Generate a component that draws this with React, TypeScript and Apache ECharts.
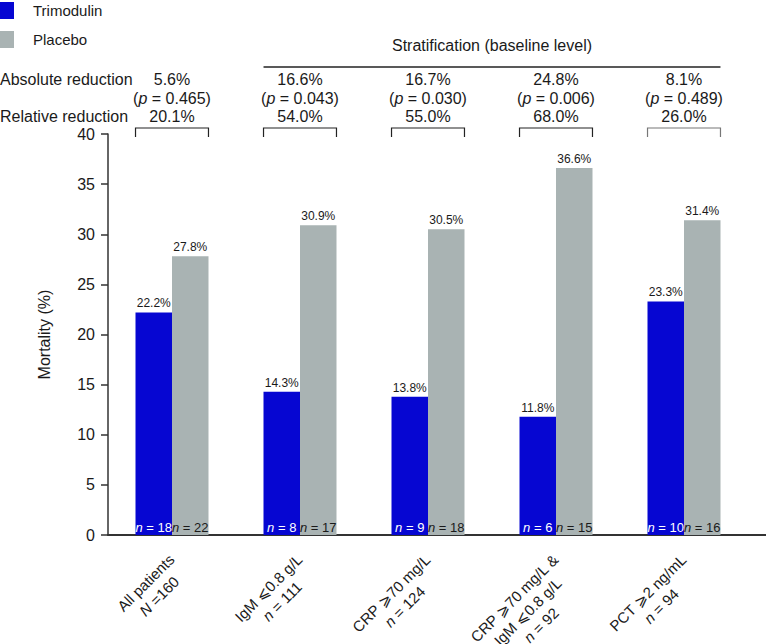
import React, { useEffect, useRef } from 'react';
import * as echarts from 'echarts';

const categories = [
  'All patients\nN =160',
  'IgM ⩽0.8 g/L\nn = 111',
  'CRP ⩾70 mg/L\nn = 124',
  'CRP ⩾70 mg/L &\nIgM ⩽0.8 g/L\nn = 92',
  'PCT ⩾2 ng/mL\nn = 94',
];
const trimodulin = [22.2, 14.3, 13.8, 11.8, 23.3];
const placebo = [27.8, 30.9, 30.5, 36.6, 31.4];
const nTrimodulin = [18, 8, 9, 6, 10];
const nPlacebo = [22, 17, 18, 15, 16];
const absoluteReduction = ['5.6%', '16.6%', '16.7%', '24.8%', '8.1%'];
const pValues = ['0.465', '0.043', '0.030', '0.006', '0.489'];
const relativeReduction = ['20.1%', '54.0%', '55.0%', '68.0%', '26.0%'];
const yMin = 0;
const yMax = 40;
const yInterval = 5;

const FONT = '"Liberation Sans", Arial, Helvetica, sans-serif';
const BLUE = '#0606d2';
const GRAY = '#a9b3b3';
const TEXT = '#1a1a1a';
const BAR_FRAC = 0.285;

export default function App() {
  const ref = useRef<HTMLDivElement>(null);

  useEffect(() => {
    document.body.style.margin = '0';
    const chart = echarts.init(ref.current!, null, { renderer: 'svg' });

    const catLabel = (v: string) => {
      const lines = v.split('\n');
      return lines
        .map((ln) => {
          const m = ln.match(/^([Nn])( .*)$/);
          if (m) return `{i|${m[1]}}{a|${m[2]}}`;
          return `{a|${ln}}`;
        })
        .join('\n');
    };

    const nText = (n: number, x: number, y: number, color: string) => ({
      type: 'text',
      style: {
        text: `{i|n}{a| = ${n}}`,
        x,
        y,
        align: 'center',
        verticalAlign: 'bottom',
        rich: {
          a: { fontSize: 13, fontFamily: FONT, fill: color },
          i: { fontSize: 13, fontFamily: FONT, fill: color, fontStyle: 'italic' },
        },
      },
    });

    const annotation = (params: any, api: any) => {
      const i = api.value(0);
      const top = api.coord([i, yMax]);
      const bottom = api.coord([i, yMin]);
      const cx = top[0];
      const y0 = top[1];
      const half = api.size([1, 0])[0] * BAR_FRAC;
      const txt = (text: string, y: number, rich?: any) => ({
        type: 'text',
        style: {
          text,
          x: cx,
          y,
          align: 'center',
          verticalAlign: 'middle',
          fontSize: 16,
          fontFamily: FONT,
          fill: TEXT,
          rich,
        },
      });
      const children: any[] = [
        {
          type: 'polyline',
          shape: {
            points: [
              [cx - half, y0 + 3],
              [cx - half, y0 - 6],
              [cx + half, y0 - 6],
              [cx + half, y0 + 3],
            ],
          },
          style: { fill: 'none', stroke: i === 4 ? '#777' : '#222', lineWidth: 1.2 },
        },
        txt(absoluteReduction[i], y0 - 55),
        txt(`{p|(}{i|p}{p| = ${pValues[i]})}`, y0 - 36, {
          p: { fontSize: 16, fontFamily: FONT, fill: TEXT },
          i: { fontSize: 16, fontFamily: FONT, fill: TEXT, fontStyle: 'italic' },
        }),
        txt(relativeReduction[i], y0 - 18),
        nText(nTrimodulin[i], cx - half / 2, bottom[1] - 1, '#ffffff'),
        nText(nPlacebo[i], cx + half / 2, bottom[1] - 1, TEXT),
      ];
      if (i === 1) {
        const last = api.coord([categories.length - 1, yMax]);
        const x1 = cx - half;
        const x2 = last[0] + half;
        children.push({
          type: 'line',
          shape: { x1, y1: y0 - 67, x2, y2: y0 - 67 },
          style: { stroke: '#222', lineWidth: 1.5 },
        });
        children.push({
          type: 'text',
          style: {
            text: 'Stratification (baseline level)',
            x: (x1 + x2) / 2,
            y: y0 - 89,
            align: 'center',
            verticalAlign: 'middle',
            fontSize: 16,
            fontFamily: FONT,
            fill: TEXT,
          },
        });
      }
      return { type: 'group', children };
    };

    const valueLabel = {
      show: true,
      position: 'top',
      distance: 3,
      fontSize: 12,
      color: TEXT,
      fontFamily: FONT,
      formatter: (p: any) => `${p.value.toFixed(1)}%`,
    };

    chart.setOption({
      animation: false,
      textStyle: { fontFamily: FONT },
      legend: {
        orient: 'vertical',
        left: 0,
        top: 2,
        padding: 0,
        itemWidth: 14,
        itemHeight: 17,
        itemGap: 12,
        icon: 'rect',
        data: ['Trimodulin', 'Placebo'],
        textStyle: { fontSize: 15, color: TEXT, fontFamily: FONT, padding: [0, 0, 0, 14] },
        selectedMode: false,
      },
      grid: { left: 108, right: 18, top: 134, bottom: 109, containLabel: false, outerBoundsMode: 'none' },
      xAxis: {
        type: 'category',
        data: categories,
        axisLine: { lineStyle: { color: '#333', width: 2 } },
        axisTick: { show: false },
        axisLabel: {
          interval: 0,
          rotate: 45,
          margin: 8,
          align: 'right',
          verticalAlign: 'top',
          padding: [0, 10, 0, 0],
          lineHeight: 19,
          formatter: catLabel,
          rich: {
            a: { fontSize: 15, lineHeight: 19, fontFamily: FONT, color: TEXT, align: 'center' },
            i: { fontSize: 15, lineHeight: 19, fontFamily: FONT, color: TEXT, fontStyle: 'italic', align: 'center' },
          },
        },
      },
      yAxis: {
        type: 'value',
        min: yMin,
        max: yMax,
        interval: yInterval,
        name: 'Mortality (%)',
        nameLocation: 'middle',
        nameGap: 56,
        nameTextStyle: { fontSize: 16, color: TEXT, fontFamily: FONT },
        axisLine: { show: true, lineStyle: { color: '#333', width: 1.5 } },
        axisTick: { show: true, length: 7, lineStyle: { color: '#333', width: 1.5 } },
        axisLabel: { fontSize: 16, color: TEXT, margin: 13, fontFamily: FONT },
        splitLine: { show: false },
      },
      graphic: [
        {
          type: 'line',
          shape: { x1: 748, y1: 535, x2: 766, y2: 535 },
          style: { stroke: '#333', lineWidth: 2 },
          silent: true,
        },
        {
          type: 'text',
          style: {
            text: 'Absolute reduction',
            x: 0,
            y: 79,
            verticalAlign: 'middle',
            fontSize: 16,
            fontFamily: FONT,
            fill: TEXT,
          },
        },
        {
          type: 'text',
          style: {
            text: 'Relative reduction',
            x: 0,
            y: 116,
            verticalAlign: 'middle',
            fontSize: 16,
            fontFamily: FONT,
            fill: TEXT,
          },
        },
      ],
      series: [
        {
          name: 'Trimodulin',
          type: 'bar',
          data: trimodulin,
          barWidth: 36.5,
          barGap: '0%',
          itemStyle: { color: BLUE },
          label: valueLabel,
        },
        {
          name: 'Placebo',
          type: 'bar',
          data: placebo,
          barWidth: 36.5,
          barGap: '0%',
          itemStyle: { color: GRAY },
          label: valueLabel,
        },
        {
          name: 'annotations',
          type: 'custom',
          silent: true,
          data: categories.map((_, i) => [i, yMax]),
          encode: { x: 0, y: 1 },
          renderItem: annotation,
          z: 5,
        },
      ],
    });

    return () => chart.dispose();
  }, []);

  return <div ref={ref} style={{ width: 766, height: 644 }} />;
}
